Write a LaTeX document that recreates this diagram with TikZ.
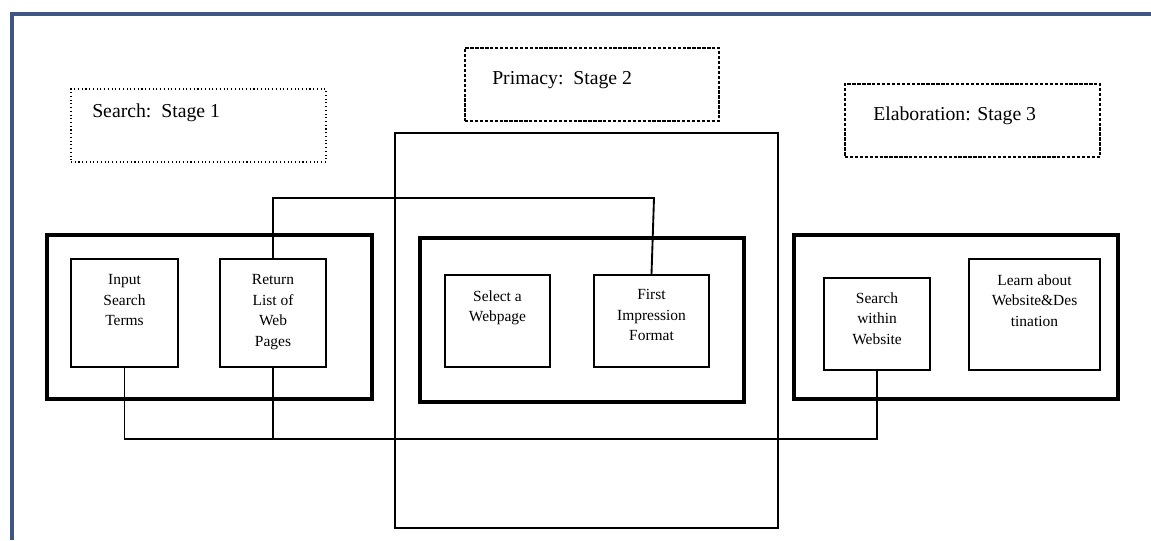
\documentclass[tikz,border=0pt]{standalone}
\usepackage{fontspec}
\setmainfont{Liberation Serif}
\usetikzlibrary{fit}
\definecolor{framecol}{HTML}{3F5582}
\begin{document}
\begin{tikzpicture}[x=0.75pt,y=-0.75pt,
  stagebox/.style={draw, line width=0.8pt, inner sep=0pt},
  outerbox/.style={draw, line width=2.6pt, inner sep=0pt},
  innerbox/.style={draw, line width=1.4pt, inner sep=0pt},
  bigbox/.style={draw, line width=0.8pt, inner sep=0pt},
  stagetxt/.style={font=\fontsize{14.8}{17}\selectfont, inner sep=0pt, anchor=west},
  boxtxt/.style={font=\fontsize{11.6}{15.4}\selectfont, align=center, inner sep=0pt, anchor=north},
  conn/.style={line width=1.4pt}]
\useasboundingbox (0,0) rectangle (1151,540);
% frame
\draw[framecol, line width=2.4pt] (12,540) -- (12,14) -- (1151,14);
% stage label boxes
\node[stagebox, dotted, fit={(71,89)(326,162)}] (s1) {};
\node[stagebox, dash pattern=on 2.5pt off 1.2pt, fit={(465,48)(719,121)}] (s2) {};
\node[stagebox, dash pattern=on 2.5pt off 1.2pt, fit={(845,84)(1100,157)}] (s3) {};
\node[stagetxt] (t1) at (92,113) {Search:\, Stage 1};
\node[stagetxt] (t2) at (492,80) {Primacy:\, Stage 2};
\node[stagetxt] (t3) at (873,116) {Elaboration: Stage 3};
% big thin rectangle
\node[bigbox, fit={(395,133)(778,528)}] (big) {};
% outer thick boxes
\node[outerbox, fit={(47,235)(372,399)}] (o1) {};
\node[outerbox, fit={(420,238)(744,402)}] (o2) {};
\node[outerbox, fit={(794,235)(1118,399)}] (o3) {};
% inner boxes
\node[innerbox, fit={(71,259)(178,367)}] (inp) {};
\node[innerbox, fit={(220,259)(326,367)}] (ret) {};
\node[innerbox, fit={(445,275)(550,367)}] (sel) {};
\node[innerbox, fit={(594,275)(709,367)}] (fi) {};
\node[innerbox, fit={(824,278)(930,370)}] (sw) {};
\node[innerbox, fit={(969,259)(1100,370)}] (la) {};
% inner texts
\node[boxtxt] (inpT) at ([yshift=-12pt]inp.north) {Input\\Search\\Terms};
\node[boxtxt] (retT) at ([yshift=-12pt]ret.north) {Return\\List of\\Web\\Pages};
\node[boxtxt] (selT) at ([yshift=-12pt]sel.north) {Select a\\Webpage};
\node[boxtxt] (fiT) at ([yshift=-11.5pt]fi.north) {First\\Impression\\Format};
\node[boxtxt] (swT) at ([yshift=-11.5pt]sw.north) {Search\\within\\Website};
\node[boxtxt] (laT) at ([yshift=-12pt]la.north) {Learn about\\Website\&Des\\tination};
% connectors
\coordinate (tc) at (654,198);
\coordinate (bc) at (125,439);
\draw[conn] (ret.north) |- (tc) -- (fi.north);
\draw[conn] (inp.south) -- (inp.south |- bc) -| (sw.south);
\draw[conn] (ret.south) -- (ret.south |- bc);
\end{tikzpicture}
\end{document}
